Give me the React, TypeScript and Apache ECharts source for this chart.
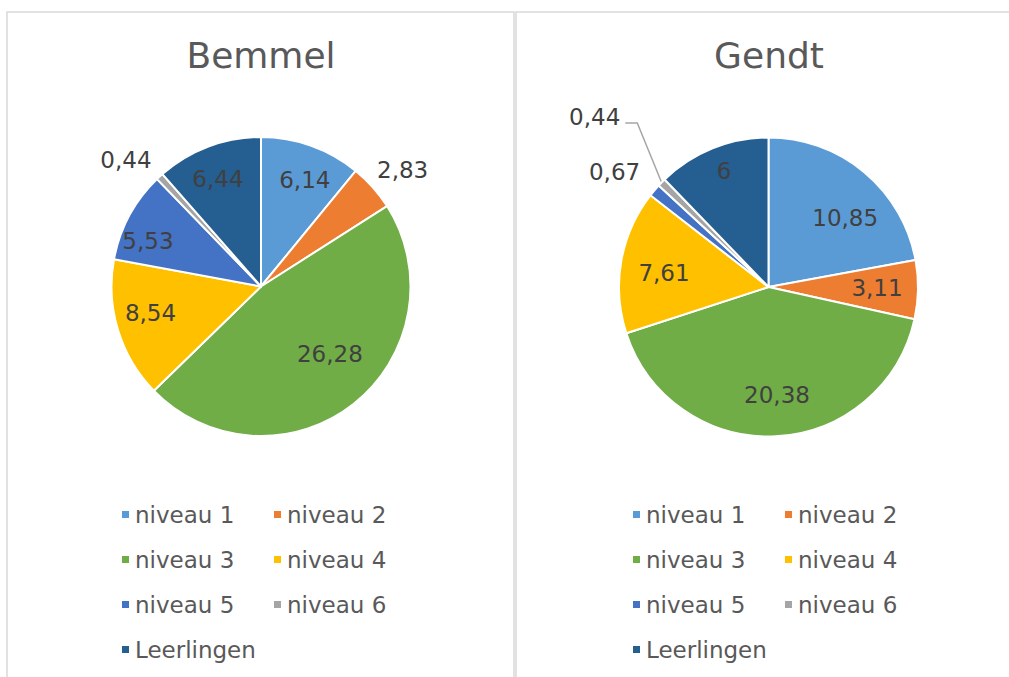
import React, { useEffect, useRef } from 'react';
import * as echarts from 'echarts';

const categories = ['niveau 1', 'niveau 2', 'niveau 3', 'niveau 4', 'niveau 5', 'niveau 6', 'Leerlingen'];
const bemmelValues = [6.14, 2.83, 26.28, 8.54, 5.53, 0.44, 6.44];
const gendtValues = [10.85, 3.11, 20.38, 7.61, 0.67, 0.44, 6];
const colors = ['#5B9BD5', '#ED7D31', '#70AD47', '#FFC000', '#4472C4', '#A5A5A5', '#255E91'];
const chartTitles = ['Bemmel', 'Gendt'];
// legend columns (names read row by row in the reference)
const legendCol1 = ['niveau 1', 'niveau 3', 'niveau 5', 'Leerlingen'];
const legendCol2 = ['niveau 2', 'niveau 4', 'niveau 6'];

// ---- label placement styling (not data) ----
// inside labels: distance from centre as a fraction of the radius; null = outside label
const bemmelLabelRadius = [0.77, null, 0.645, 0.76, 0.815, null, 0.775];
const gendtLabelRadius = [0.69, 0.726, 0.725, 0.705, null, null, 0.83];
// inside labels: angular nudge (degrees, clockwise) from the slice's mid-angle ("best fit" placement)
const bemmelLabelTurn = [2.7, 0, -7.2, 3.4, -6.3, 0, -1.2];
const gendtLabelTurn = [8.2, -0.5, -1.7, -2.3, 0, 0, 1];
// outside labels: [length, length2, showLine, label dx, label dy, line dx, line dy]
type LineCfg = [number, number, boolean, number, number, number, number];
const bemmelLines: Record<number, LineCfg> = { 1: [15, 0, false, -9, -7, 0, 0], 5: [15, 0, false, 4, -6, 0, 0] };
const gendtLines: Record<number, LineCfg> = { 4: [20, 0, false, 3, -5, 0, 0], 5: [55, 12, true, 12, -27, 15, -21] };

const FONT = '"DejaVu Sans", Verdana, sans-serif';
const LABEL_COLOR = '#404040';
const fmt = (v: number) => String(v).replace('.', ',');

function buildSeries(
  values: number[],
  labelRadius: (number | null)[],
  labelTurn: number[],
  lines: Record<number, LineCfg>,
  center: [number, number],
  r: number
) {
  const total = values.reduce((a, b) => a + b, 0);
  const cum: number[] = [];
  values.reduce((acc, v, i) => { cum[i] = acc; return acc + v; }, 0);
  // direction for an angle measured clockwise from 12 o'clock
  const dirAt = (deg: number) => {
    const a = (deg * Math.PI) / 180;
    return [Math.sin(a), -Math.cos(a)];
  };
  const midDeg = (i: number) => ((cum[i] + values[i] / 2) / total) * 360;
  return {
    type: 'pie',
    center,
    radius: r,
    startAngle: 90,
    clockwise: true,
    avoidLabelOverlap: true,
    itemStyle: { borderColor: '#ffffff', borderWidth: 2 },
    emphasis: { disabled: true },
    labelLayout: (p: any) => {
      const i = p.dataIndex;
      const f = labelRadius[i];
      if (f != null) {
        const d0 = dirAt(midDeg(i));
        const d1 = dirAt(midDeg(i) + labelTurn[i]);
        const r0 = r / 2 + 3;
        return { dx: f * r * d1[0] - r0 * d0[0], dy: f * r * d1[1] - r0 * d0[1] };
      }
      const ln = lines[i];
      if (!ln) return {};
      const out: any = { dx: ln[3], dy: ln[4] };
      if (ln[2] && p.labelLinePoints) {
        out.labelLinePoints = p.labelLinePoints.map((pt: number[], k: number) =>
          k === 0 ? pt : [pt[0] + ln[5], pt[1] + ln[6]]
        );
      }
      return out;
    },
    data: categories.map((name, i) => {
      const isOut = labelRadius[i] == null;
      const ln = lines[i];
      return {
        name,
        value: values[i],
        itemStyle: { color: colors[i] },
        label: {
          show: true,
          position: isOut ? 'outside' : 'inside',
          distanceToLabelLine: 2,
          formatter: (p: any) => fmt(p.value),
          color: LABEL_COLOR,
          fontSize: 23,
          fontFamily: FONT,
        },
        labelLine: isOut
          ? { show: ln[2], length: ln[0], length2: ln[1], smooth: false, lineStyle: { color: '#A6A6A6', width: 1.5 } }
          : { show: false },
      };
    }),
  };
}

function legendFor(left: number, names: string[]) {
  return {
    left,
    top: 498,
    orient: 'vertical',
    icon: 'rect',
    itemWidth: 9,
    itemHeight: 9,
    itemGap: 22,
    selectedMode: false,
    textStyle: { color: '#595959', fontSize: 23, fontFamily: FONT },
    data: names.map((name) => ({ name, itemStyle: { color: colors[categories.indexOf(name)] } })),
  };
}

export default function App() {
  const ref = useRef<HTMLDivElement>(null);
  useEffect(() => {
    if (!ref.current) return;
    const chart = echarts.init(ref.current, null, { renderer: 'svg' });
    const titleStyle = { color: '#595959', fontSize: 36, fontWeight: 'normal', fontFamily: FONT };
    const option: any = {
      animation: false,
      backgroundColor: '#ffffff',
      title: [
        { text: chartTitles[0], left: 256, top: 32, textAlign: 'center', textStyle: titleStyle },
        { text: chartTitles[1], left: 764, top: 32, textAlign: 'center', textStyle: titleStyle },
      ],
      legend: [
        legendFor(115, legendCol1),
        legendFor(267, legendCol2),
        legendFor(626, legendCol1),
        legendFor(778, legendCol2),
      ],
      graphic: [
        { type: 'rect', shape: { x: 7, y: 12, width: 507, height: 700 }, style: { fill: 'none', stroke: '#D9D9D9', lineWidth: 1.5 }, silent: true },
        { type: 'rect', shape: { x: 516, y: 12, width: 600, height: 700 }, style: { fill: 'none', stroke: '#D9D9D9', lineWidth: 1.5 }, silent: true },
      ],
      series: [
        buildSeries(bemmelValues, bemmelLabelRadius, bemmelLabelTurn, bemmelLines, [261, 286.5], 149.5),
        buildSeries(gendtValues, gendtLabelRadius, gendtLabelTurn, gendtLines, [768.5, 287], 149.5),
      ],
    };
    chart.setOption(option);
    return () => chart.dispose();
  }, []);
  return <div ref={ref} style={{ position: 'absolute', left: 0, top: 0, width: 1009, height: 677 }} />;
}
